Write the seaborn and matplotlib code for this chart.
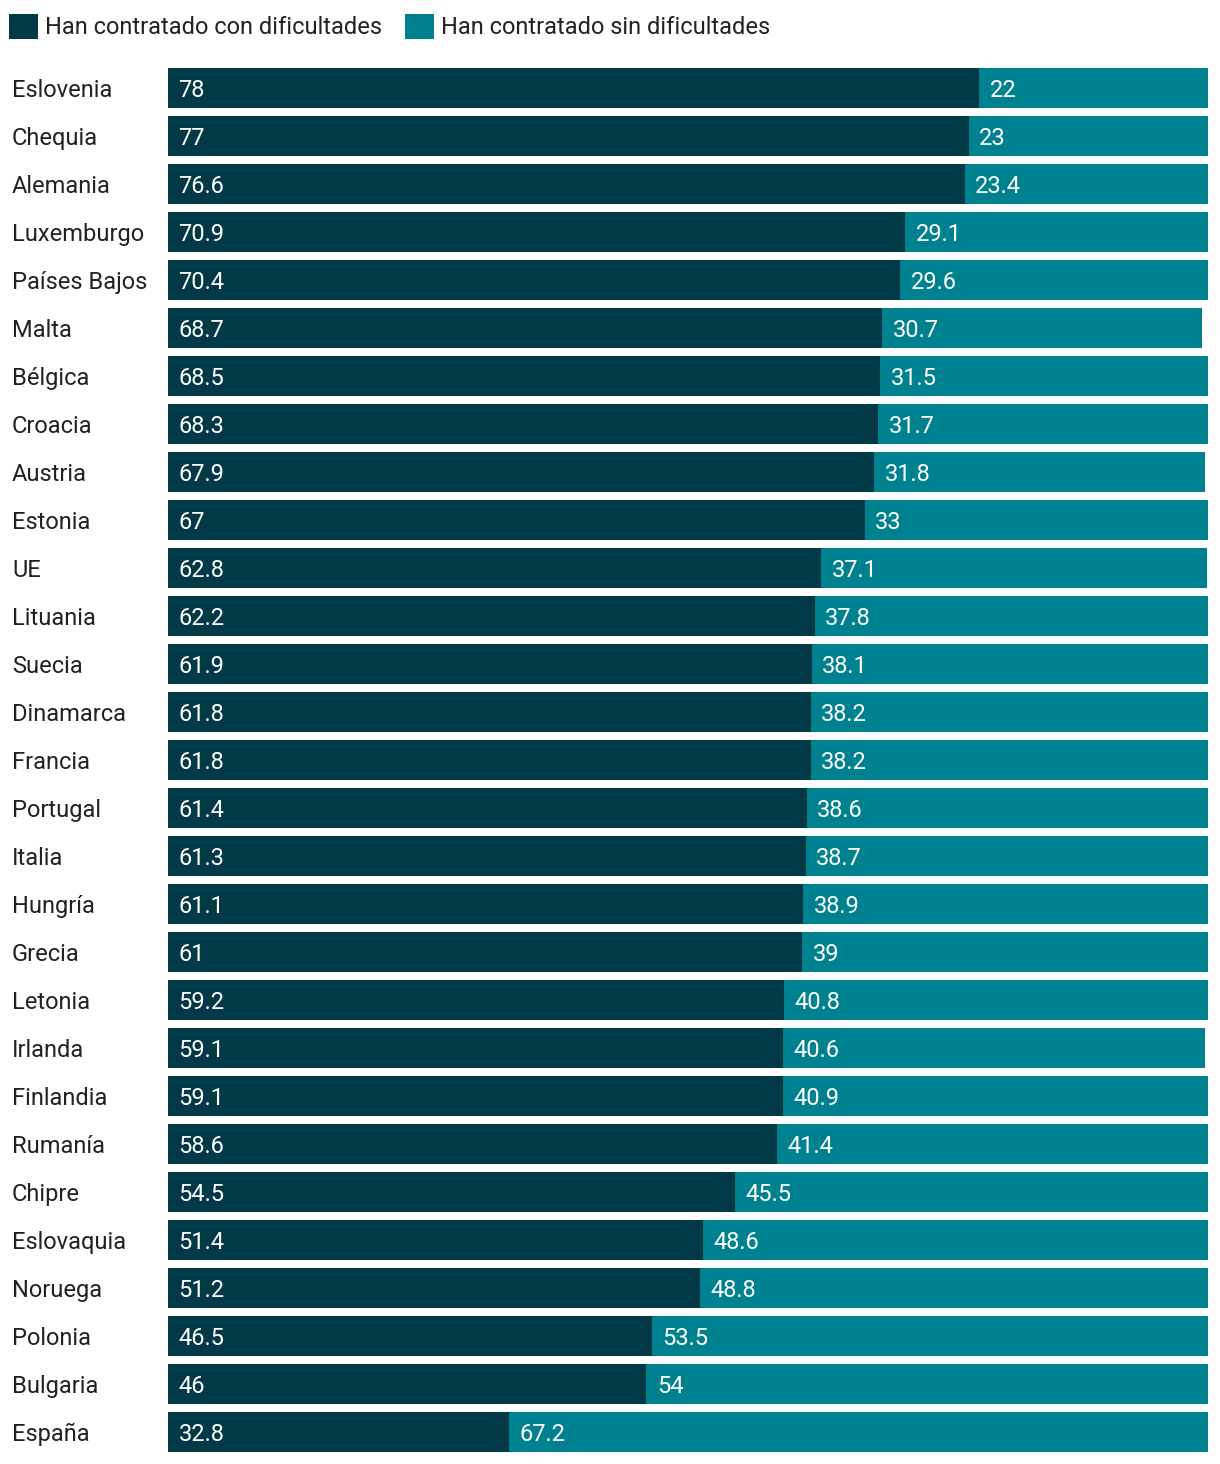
import matplotlib
matplotlib.use('Agg')
import matplotlib.pyplot as plt
import seaborn as sns
import pandas as pd
from matplotlib.patches import Patch

countries = ['Eslovenia', 'Chequia', 'Alemania', 'Luxemburgo', 'Países Bajos', 'Malta',
             'Bélgica', 'Croacia', 'Austria', 'Estonia', 'UE', 'Lituania', 'Suecia',
             'Dinamarca', 'Francia', 'Portugal', 'Italia', 'Hungría', 'Grecia', 'Letonia',
             'Irlanda', 'Finlandia', 'Rumanía', 'Chipre', 'Eslovaquia', 'Noruega',
             'Polonia', 'Bulgaria', 'España']
con_dificultades = [78, 77, 76.6, 70.9, 70.4, 68.7, 68.5, 68.3, 67.9, 67, 62.8, 62.2, 61.9,
                    61.8, 61.8, 61.4, 61.3, 61.1, 61, 59.2, 59.1, 59.1, 58.6, 54.5, 51.4,
                    51.2, 46.5, 46, 32.8]
sin_dificultades = [22, 23, 23.4, 29.1, 29.6, 30.7, 31.5, 31.7, 31.8, 33, 37.1, 37.8, 38.1,
                    38.2, 38.2, 38.6, 38.7, 38.9, 39, 40.8, 40.6, 40.9, 41.4, 45.5, 48.6,
                    48.8, 53.5, 54, 67.2]
series_names = ['Han contratado con dificultades', 'Han contratado sin dificultades']

DARK = '#023947'
TEAL = '#00818f'
FS = 17

df = pd.DataFrame({'pais': countries, 'con': con_dificultades, 'sin': sin_dificultades})
df['total'] = df['con'] + df['sin']

sns.set_style('white')
plt.rcParams['font.family'] = ['Roboto', 'DejaVu Sans']

fig = plt.figure(figsize=(12.2, 14.64), dpi=100)
ax = fig.add_axes([168 / 1220, 1 - 1456 / 1464, 1040 / 1220, 1392 / 1464])

# teal bar = total, dark bar drawn on top
sns.barplot(data=df, y='pais', x='total', color=TEAL, orient='h', width=0.833,
            saturation=1, ax=ax, edgecolor='none')
sns.barplot(data=df, y='pais', x='con', color=DARK, orient='h', width=0.833,
            saturation=1, ax=ax, edgecolor='none')

for i, row in df.iterrows():
    ax.text(1, i, f"{row['con']:g}", color='white', va='center_baseline', ha='left', fontsize=FS)
    ax.text(row['con'] + 1, i, f"{row['sin']:g}", color='white', va='center_baseline',
            ha='left', fontsize=FS)

ax.set_xlim(0, 100)
ax.set_ylim(len(countries) - 0.5, -0.5)
ax.set_xlabel('')
ax.set_ylabel('')
ax.set_xticks([])
ax.tick_params(axis='y', length=0, labelsize=FS, pad=0, labelcolor='#222222')
for lbl in ax.get_yticklabels():
    lbl.set_horizontalalignment('left')
    lbl.set_x(-156 / 1040)
sns.despine(ax=ax, left=True, bottom=True)

handles = [Patch(facecolor=DARK, edgecolor='none'), Patch(facecolor=TEAL, edgecolor='none')]
fig.legend(handles, series_names, loc='upper left', bbox_to_anchor=(0.0, 0.9966), ncol=2,
           frameon=False, fontsize=FS, handlelength=1.2, handleheight=1.2,
           handletextpad=0.3, columnspacing=1.0, borderaxespad=0.1, borderpad=0.3,
           labelcolor='#222222')

fig.savefig('out.png', dpi=100)
